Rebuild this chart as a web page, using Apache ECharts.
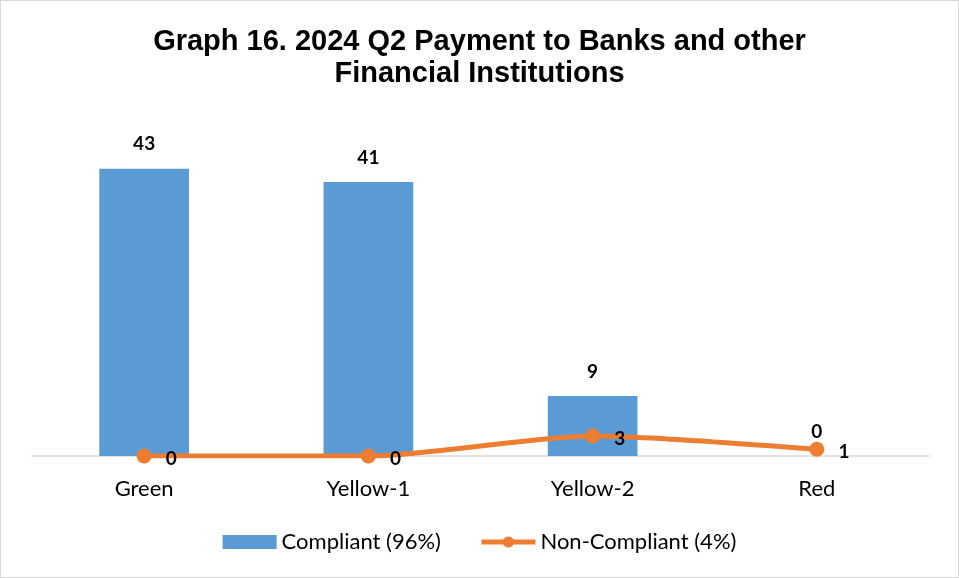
<!DOCTYPE html>
<html>
<head>
<meta charset="utf-8">
<script src="https://cdn.jsdelivr.net/npm/echarts@6/dist/echarts.min.js"></script>
<style>
  html, body { margin: 0; padding: 0; background: #fff; }
  #chart { width: 957px; height: 576px; border: 1px solid #d9d9d9; }
</style>
</head>
<body>
<div id="chart"></div>
<script>
// categories and values
const categories = ['Green', 'Yellow-1', 'Yellow-2', 'Red']
const compliant = [43, 41, 9, 0]
const nonCompliant = [0, 0, 3, 1]
const seriesNames = ['Compliant (96%)', 'Non-Compliant (4%)']

const chart = echarts.init(document.getElementById('chart'))

const labelFont = 'Lato, "Open Sans", sans-serif'

const option = {
  animation: false,
  title: {
    text: 'Graph 16. 2024 Q2 Payment to Banks and other\nFinancial Institutions',
    left: 'center',
    top: 20,
    textStyle: {
      fontFamily: '"Liberation Sans", Arial, sans-serif',
      fontWeight: 'bold',
      fontSize: 29,
      lineHeight: 32,
      color: '#000'
    }
  },
  legend: {
    bottom: 19,
    left: 'center',
    itemWidth: 54,
    itemHeight: 14,
    itemGap: 38,
    textStyle: { fontFamily: labelFont, fontSize: 22, color: '#000' },
    data: [
      { name: seriesNames[0], icon: 'rect' },
      { name: seriesNames[1], lineStyle: { width: 5 } }
    ]
  },
  grid: {
    left: 31,
    right: 29,
    top: 121,
    bottom: 121
  },
  xAxis: {
    type: 'category',
    data: categories,
    axisTick: { show: false },
    axisLine: { lineStyle: { color: '#d9d9d9', width: 1.5 } },
    axisLabel: {
      margin: 22,
      fontFamily: labelFont,
      fontSize: 22,
      color: '#000'
    }
  },
  yAxis: {
    type: 'value',
    min: 0,
    max: 50,
    show: false,
    splitLine: { show: false }
  },
  series: [
    {
      name: seriesNames[0],
      type: 'bar',
      data: compliant,
      barWidth: '40%',
      itemStyle: { color: '#5b9bd5' },
      label: {
        show: true,
        position: 'top',
        distance: 15,
        fontFamily: labelFont,
        fontWeight: 'bold',
        fontSize: 19,
        color: '#000'
      }
    },
    {
      name: seriesNames[1],
      type: 'line',
      data: nonCompliant,
      smooth: 0.25,
      symbol: 'circle',
      symbolSize: 15,
      lineStyle: { color: '#ed7d31', width: 5 },
      itemStyle: { color: '#ed7d31' },
      label: {
        show: true,
        position: 'right',
        distance: 14,
        offset: [0, 3],
        fontFamily: labelFont,
        fontWeight: 'bold',
        fontSize: 19,
        color: '#000'
      }
    }
  ]
}

chart.setOption(option)
</script>
</body>
</html>
